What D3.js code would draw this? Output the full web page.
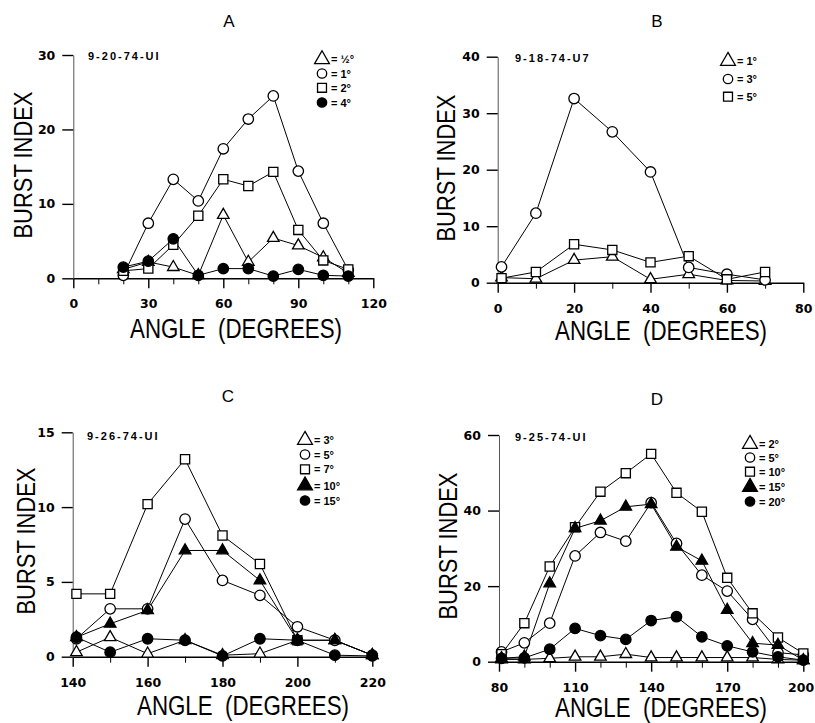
<!DOCTYPE html>
<html>
<head>
<meta charset="utf-8">
<script src="https://cdn.jsdelivr.net/npm/d3@7"></script>
<style>
body{margin:0;background:#fff;}
svg{display:block;}
</style>
</head>
<body>
<svg id="chart"></svg>
<script>
// ---- panel A: 9-20-74-UI
var anglesA=[20,30,40,50,60,70,80,90,100,110];
var halfDegA=[1.2,2.2,1.5,0.4,8.5,2.2,5.4,4.4,2.8,0.7];
var oneDegA=[0.4,7.4,13.3,10.4,17.4,21.4,24.5,14.4,7.4,1.1];
var twoDegA=[1.0,1.3,4.5,8.4,13.3,12.4,14.3,6.5,2.4,1.2];
var fourDegA=[1.5,2.3,5.3,0.4,1.3,1.3,0.3,1.2,0.4,0.3];
var legendA=["= \u00bd\u00b0","= 1\u00b0","= 2\u00b0","= 4\u00b0"];

// ---- panel B: 9-18-74-U7
var anglesB=[1,10,20,30,40,50,60,70];
var oneDegB=[0.9,0.7,4.0,4.6,0.6,1.5,0.4,0.3];
var threeDegB=[2.8,12.3,32.6,26.7,19.6,2.7,1.5,0.5];
var fiveDegB=[0.8,1.9,6.8,5.8,3.6,4.7,0.6,1.9];
var legendB=["= 1\u00b0","= 3\u00b0","= 5\u00b0"];

// ---- panel C: 9-26-74-UI
var anglesC=[141,150,160,170,180,190,200,210,220];
var threeDegC=[0.3,1.3,0.2,1.1,0.1,0.2,1.1,1.1,0.1];
var fiveDegC=[1.2,3.2,3.2,9.2,5.1,4.1,2.0,1.1,0.1];
var sevenDegC=[4.2,4.2,10.2,13.2,8.1,6.2,1.1,null,null];
var tenDegC=[1.3,2.2,3.1,7.1,7.1,5.1,1.1,1.1,0.1];
var fifteenDegC=[1.3,0.3,1.2,1.1,0.05,1.2,1.1,0.1,0.05];
var legendC=["= 3\u00b0","= 5\u00b0","= 7\u00b0","= 10\u00b0","= 15\u00b0"];

// ---- panel D: 9-25-74-UI
var anglesD=[81,90,100,110,120,130,140,150,160,170,180,190,200];
var twoDegD=[0.6,0.6,0.9,1.3,1.3,2.0,1.1,1.1,1.1,1.1,1.1,0.6,0.4];
var fiveDegD=[2.6,5.0,10.2,28.0,34.2,31.9,42.1,31.3,22.9,18.7,11.2,2.4,1.8];
var tenDegD=[2.0,10.2,25.2,35.6,45.0,49.9,55.0,44.7,39.7,22.2,12.8,6.4,2.2];
var fifteenDegD=[0.9,1.3,20.7,35.3,37.3,41.0,41.7,30.4,26.7,13.7,4.9,4.4,0.4];
var twentyDegD=[0.9,1.0,3.3,8.8,6.9,5.9,10.9,11.9,6.6,4.2,2.6,1.3,0.4];
var legendD=["= 2\u00b0","= 5\u00b0","= 10\u00b0","= 15\u00b0","= 20\u00b0"];

var W=815,H=723;
var svg=d3.select("#chart")
          .attr("width",W)
          .attr("height",H);

var panels=[
  {title:"A",run:"9-20-74-UI",angles:anglesA,
   series:[halfDegA,oneDegA,twoDegA,fourDegA],
   kinds:["triOpen","circleOpen","squareOpen","circleFilled"],legend:legendA,
   xDomain:[0,120],xRange:[73.3,373.3],yDomain:[0,30],yRange:[278.3,55],
   xMajor:[0,30,60,90,120],yTicks:[0,10,20,30],
   titlePos:[229,27],runPos:[88,59.5],xLabelPos:[236,338],yLabelPos:[32,165],
   legendX:322,legendY:[59.3,73.5,87.8,102.5]},
  {title:"B",run:"9-18-74-U7",angles:anglesB,
   series:[oneDegB,threeDegB,fiveDegB],
   kinds:["triOpen","circleOpen","squareOpen"],legend:legendB,
   xDomain:[0,80],xRange:[497.7,803.3],yDomain:[0,40],yRange:[282.7,56.7],
   xMajor:[0,20,40,60,80],yTicks:[0,10,20,30,40],
   titlePos:[657,27],runPos:[515,62],xLabelPos:[661,340],yLabelPos:[455,168],
   legendX:728,legendY:[61,79,96.7]},
  {title:"C",run:"9-26-74-UI",angles:anglesC,
   series:[threeDegC,fiveDegC,sevenDegC,tenDegC,fifteenDegC],
   kinds:["triOpen","circleOpen","squareOpen","triFilled","circleFilled"],legend:legendC,
   xDomain:[140,220],xRange:[72.7,372.3],yDomain:[0,15],yRange:[656.7,432.3],
   xMajor:[140,160,180,200,220],yTicks:[0,5,10,15],
   titlePos:[228,402],runPos:[87,440],xLabelPos:[243,715],yLabelPos:[35,541],
   legendX:305,legendY:[440,454.5,469.3,485.5,500.5]},
  {title:"D",run:"9-25-74-UI",angles:anglesD,
   series:[twoDegD,fiveDegD,tenDegD,fifteenDegD,twentyDegD],
   kinds:["triOpen","circleOpen","squareOpen","triFilled","circleFilled"],legend:legendD,
   xDomain:[80,200],xRange:[499,803.3],yDomain:[0,60],yRange:[661.7,435],
   xMajor:[80,110,140,170,200],yTicks:[0,20,40,60],
   titlePos:[657,405],runPos:[515,441],xLabelPos:[661,717],yLabelPos:[457,546],
   legendX:750,legendY:[444,457.5,471.7,487,501.5]}
];

var symbolType={
  triOpen:d3.symbolTriangle,triFilled:d3.symbolTriangle,
  circleOpen:d3.symbolCircle,circleFilled:d3.symbolCircle,
  squareOpen:d3.symbolSquare
};
var symbolSize={triOpen:58,triFilled:58,circleOpen:86,circleFilled:86,squareOpen:84};
function isFilled(k){return k.indexOf("Filled")>=0;}

panels.forEach(function(p){
  var g=svg.append("g");
  var xScale=d3.scaleLinear().domain(p.xDomain).range(p.xRange);
  var yScale=d3.scaleLinear().domain(p.yDomain).range(p.yRange);

  var minor=d3.range(p.xDomain[0],p.xDomain[1]+1,10)
              .filter(function(v){return p.xMajor.indexOf(v)<0;});

  // x axis: minor ticks then major ticks with labels
  g.append("g")
   .attr("transform","translate(0,"+p.yRange[0]+")")
   .call(d3.axisBottom(xScale).tickValues(minor).tickSize(6).tickSizeOuter(0).tickFormat(""))
   .call(function(a){a.select(".domain").remove();});
  var xa=g.append("g")
   .classed("xAxis",true)
   .attr("transform","translate(0,"+p.yRange[0]+")")
   .call(d3.axisBottom(xScale).tickValues(p.xMajor).tickSize(10).tickSizeOuter(0).tickPadding(11));
  xa.select(".domain").attr("stroke-width",1.6);

  var ya=g.append("g")
   .classed("yAxis",true)
   .attr("transform","translate("+p.xRange[0]+",0)")
   .call(d3.axisLeft(yScale).tickValues(p.yTicks).tickSize(11).tickSizeOuter(0).tickPadding(7));
  ya.select(".domain").attr("stroke","#555").attr("stroke-width",1);

  g.selectAll(".xAxis line, .yAxis line").attr("stroke-width",1.4);
  g.selectAll(".xAxis text, .yAxis text")
   .attr("font-family","DejaVu Sans, sans-serif")
   .attr("font-weight","bold")
   .attr("font-size",12.5)
   .attr("fill","#000");

  // keep the last tick label inside the page
  xa.selectAll(".tick text").each(function(d){
    var b=this.getBBox();
    var right=xScale(d)+b.x+b.width;
    if(right>W-1){d3.select(this).attr("x",(W-1)-right);}
  });

  // lines
  var line=d3.line()
             .defined(function(d){return d.v!=null;})
             .x(function(d){return xScale(d.a);})
             .y(function(d){return yScale(d.v);});
  var rows=p.series.map(function(s){
    return s.map(function(v,i){return {a:p.angles[i],v:v};});
  });
  rows.forEach(function(r){
    g.append("path")
     .datum(r)
     .attr("d",line)
     .attr("fill","none")
     .attr("stroke","#000")
     .attr("stroke-width",1);
  });

  // markers
  rows.forEach(function(r,k){
    var kind=p.kinds[k];
    var sym=d3.symbol().type(symbolType[kind]).size(symbolSize[kind]);
    g.selectAll(null)
     .data(r.filter(function(d){return d.v!=null;}))
     .enter()
     .append("path")
     .attr("d",sym)
     .attr("transform",function(d){return "translate("+xScale(d.a)+","+yScale(d.v)+")";})
     .attr("fill",isFilled(kind)?"#000":"#fff")
     .attr("stroke","#000")
     .attr("stroke-width",1.3);
  });

  // legend
  p.legend.forEach(function(t,k){
    var kind=p.kinds[k];
    var size=kind.indexOf("tri")===0?95:(kind.indexOf("square")===0?80:70);
    g.append("path")
     .attr("d",d3.symbol().type(symbolType[kind]).size(size))
     .attr("transform","translate("+p.legendX+","+p.legendY[k]+")")
     .attr("fill",isFilled(kind)?"#000":"#fff")
     .attr("stroke","#000")
     .attr("stroke-width",1.3);
    g.append("text")
     .attr("x",p.legendX+9)
     .attr("y",p.legendY[k]+4)
     .attr("font-family","Liberation Sans, Arial, sans-serif")
     .attr("font-weight","bold")
     .attr("font-size",11)
     .text(t);
  });

  // texts
  g.append("text")
   .attr("x",p.titlePos[0]).attr("y",p.titlePos[1])
   .attr("text-anchor","middle")
   .attr("font-family","Liberation Sans, Arial, sans-serif")
   .attr("font-size",17)
   .text(p.title);
  g.append("text")
   .attr("x",p.runPos[0]).attr("y",p.runPos[1])
   .attr("font-family","Liberation Sans, Arial, sans-serif")
   .attr("font-weight","bold")
   .attr("font-size",11)
   .attr("letter-spacing",2)
   .text(p.run);
  g.append("text")
   .attr("x",p.xLabelPos[0]).attr("y",p.xLabelPos[1])
   .attr("text-anchor","middle")
   .attr("font-family","Liberation Sans, Arial, sans-serif")
   .attr("font-size",27)
   .attr("textLength",212)
   .attr("lengthAdjust","spacingAndGlyphs")
   .style("white-space","pre")
   .text("ANGLE  (DEGREES)");
  g.append("text")
   .attr("transform","translate("+p.yLabelPos[0]+","+p.yLabelPos[1]+") rotate(-90)")
   .attr("text-anchor","middle")
   .attr("font-family","Liberation Sans, Arial, sans-serif")
   .attr("font-size",26)
   .attr("textLength",147)
   .attr("lengthAdjust","spacingAndGlyphs")
   .text("BURST INDEX");
});
</script>
</body>
</html>
